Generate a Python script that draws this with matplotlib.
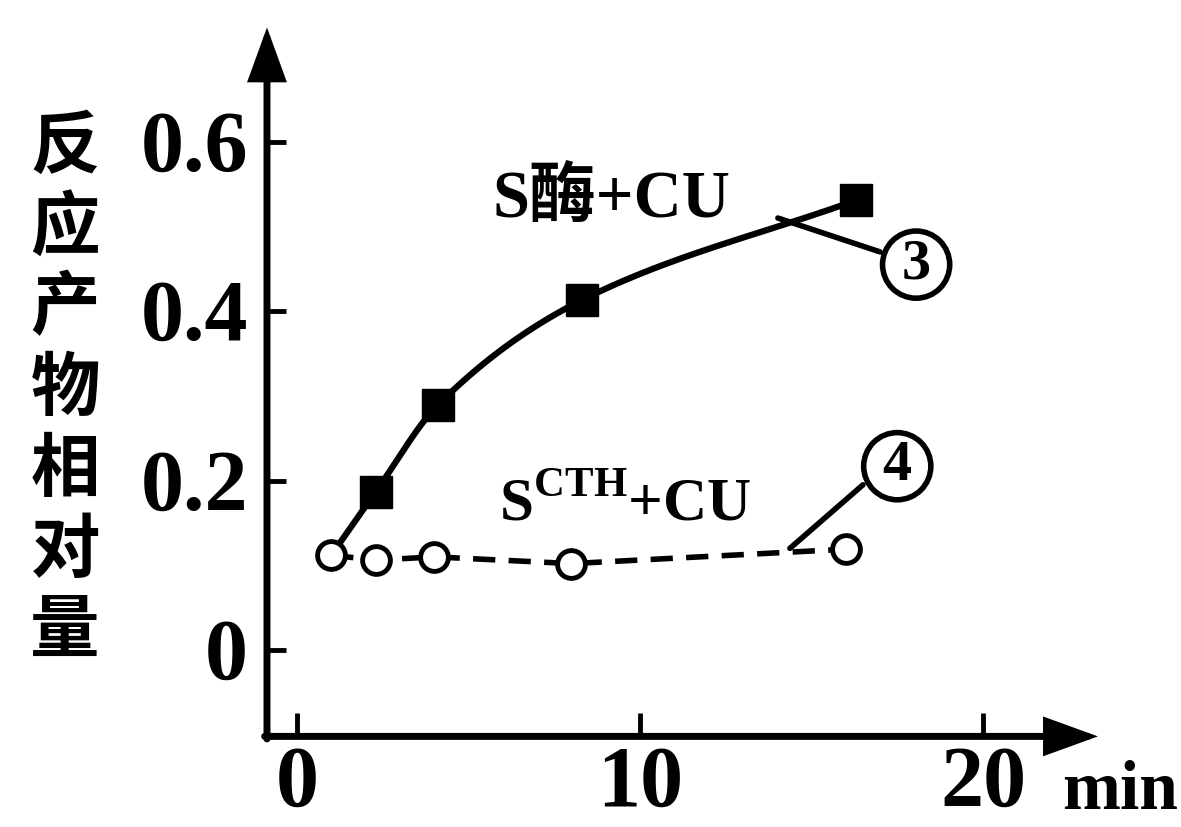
import numpy as np
import matplotlib
matplotlib.use('Agg')
import matplotlib.pyplot as plt

# values (time in min, relative amount)
enzyme_t = [2.3, 4.1, 8.3, 16.3]
enzyme_y = [0.187, 0.289, 0.413, 0.531]
cth_t = [1.0, 2.3, 4.0, 8.0, 16.0]
cth_y = [0.112, 0.106, 0.110, 0.102, 0.119]

x_ticks = [0, 10, 20]
x_tick_labels = ['0', '10', '20']
y_ticks = [0, 0.2, 0.4, 0.6]
y_tick_labels = ['0', '0.2', '0.4', '0.6']

y_label = '反应产物相对量'
x_unit = 'min'
label_enzyme = 'S酶+CU'
label_cth = r'S$^{\mathbf{CTH}}$+CU'

plt.rcParams['mathtext.fontset'] = 'custom'
plt.rcParams['mathtext.rm'] = 'Liberation Serif'
plt.rcParams['mathtext.bf'] = 'Liberation Serif:bold'

NUM_FONT = ['Liberation Serif', 'Noto Sans CJK SC']
CJK_FONT = ['Noto Sans CJK SC', 'DejaVu Sans']


def pchip(x, y, xs):
    # monotone cubic through the points, keeps the curve smooth
    x = np.asarray(x, float)
    y = np.asarray(y, float)
    h = np.diff(x)
    d = np.diff(y) / h
    m = np.zeros_like(y)
    for k in range(1, len(x) - 1):
        if d[k - 1] * d[k] > 0:
            w1 = 2 * h[k] + h[k - 1]
            w2 = h[k] + 2 * h[k - 1]
            m[k] = (w1 + w2) / (w1 / d[k - 1] + w2 / d[k])
    m[0] = d[0]
    m[-1] = d[-1]
    out = np.empty_like(xs)
    for i, xv in enumerate(xs):
        k = min(max(np.searchsorted(x, xv) - 1, 0), len(h) - 1)
        s = (xv - x[k]) / h[k]
        h00 = 2 * s**3 - 3 * s**2 + 1
        h10 = s**3 - 2 * s**2 + s
        h01 = -2 * s**3 + 3 * s**2
        h11 = s**3 - s**2
        out[i] = h00 * y[k] + h10 * h[k] * m[k] + h01 * y[k + 1] + h11 * h[k] * m[k + 1]
    return out


fig = plt.figure(figsize=(11.81, 8.27), dpi=100)
ax = fig.add_axes([0, 0, 1, 1])
# map data to the picture: x=0 at 297px, 34.3px per min; y=0 at 650px, 847px per unit
ax.set_xlim(-297 / 34.3, (1181 - 297) / 34.3)
ax.set_ylim((650 - 827) / 847, 650 / 847)
ax.axis('off')

x_axis_y = -0.102
y_axis_x = -0.875

# axes with arrow heads
arrow = dict(arrowstyle='-|>,head_length=0.55,head_width=0.2', mutation_scale=54,
             lw=5, color='black', shrinkA=0, shrinkB=0, joinstyle='miter')
ax.annotate('', xy=(23.35, x_axis_y), xytext=(y_axis_x - 0.07, x_axis_y), arrowprops=arrow)
ax.annotate('', xy=(y_axis_x, 0.735), xytext=(y_axis_x, x_axis_y - 0.003), arrowprops=arrow)

for v in y_ticks:
    ax.plot([y_axis_x, y_axis_x + 0.55], [v, v], color='black', lw=3.5, solid_capstyle='butt')
for v in x_ticks:
    ax.plot([v, v], [x_axis_y, x_axis_y + 0.028], color='black', lw=3.5, solid_capstyle='butt')

for v, lab in zip(y_ticks, y_tick_labels):
    ax.text(-1.43, v - 0.01, lab, fontsize=62, fontweight='bold', family=NUM_FONT,
            ha='right', va='center')
for v, lab in zip(x_ticks, x_tick_labels):
    ax.text(v, -0.16, lab, fontsize=62, fontweight='bold', family=NUM_FONT,
            ha='center', va='center')
ax.text(23.99, -0.168, x_unit, fontsize=50, fontweight='bold', family=NUM_FONT,
        ha='center', va='center')

# vertical y label, one character per line
top = 0.593
step = 0.0953
for i, ch in enumerate(y_label):
    ax.text(-6.76, top - i * step, ch, fontsize=50, fontweight='bold', family=CJK_FONT,
            ha='center', va='center')

# S enzyme + CU: smooth solid curve from the first point through the squares
curve_t = [cth_t[0]] + enzyme_t
curve_y = [cth_y[0]] + enzyme_y
ts = np.linspace(curve_t[0], curve_t[-1], 300)
ax.plot(ts, pchip(curve_t, curve_y, ts), color='black', lw=4.5, solid_capstyle='round')
ax.plot(enzyme_t, enzyme_y, 's', color='black', ms=23, zorder=4)

# S CTH + CU: dashed line with open circles
ax.plot(cth_t, cth_y, color='black', lw=4, linestyle=(0, (4, 2.4)), dash_capstyle='butt')
ax.plot(cth_t, cth_y, 'o', mfc='white', mec='black', mew=3.5, ms=20, zorder=4)

ax.text(9.18, 0.531, label_enzyme, fontsize=48, fontweight='bold', family=NUM_FONT,
        ha='center', va='center')
ax.text(9.56, 0.171, label_cth, fontsize=44, fontweight='bold', family=NUM_FONT,
        ha='center', va='center')

# leader lines and circled numbers
ax.plot([14.02, 17.0], [0.510, 0.470], color='black', lw=4, solid_capstyle='round')
ax.plot([14.37, 16.5], [0.120, 0.195], color='black', lw=4, solid_capstyle='round')
circ = dict(boxstyle='circle,pad=0.13', fc='white', ec='black', lw=4)
ax.text(18.05, 0.455, '3', fontsize=42, fontweight='bold', family=NUM_FONT,
        ha='center', va='center', bbox=circ, zorder=5)
ax.text(17.5, 0.217, '4', fontsize=42, fontweight='bold', family=NUM_FONT,
        ha='center', va='center', bbox=circ, zorder=5)

fig.savefig('out.png', dpi=100, facecolor='white')
